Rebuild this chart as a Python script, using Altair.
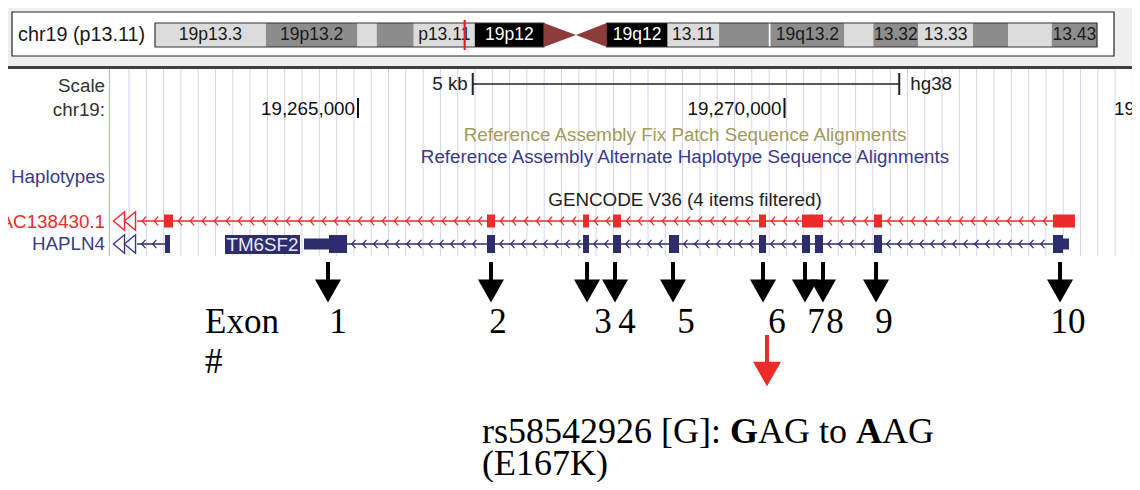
import altair as alt
import pandas as pd

# ---------------- data ----------------
# chr19 ideogram (hg38, Mb)
band_name = ["p13.3", "p13.2", "p13.13", "p13.12", "p13.11", "p12", "q12", "q13.11", "q13.12",
             "q13.13", "q13.2", "q13.31", "q13.32", "q13.33", "q13.41", "q13.42", "q13.43"]
band_start = [0.0, 6.9, 12.6, 13.8, 16.1, 19.9, 28.1, 31.9, 35.1, 38.2, 38.3, 42.9, 44.7, 47.5, 50.9, 53.1, 55.8]
band_end = [6.9, 12.6, 13.8, 16.1, 19.9, 24.2, 31.9, 35.1, 38.2, 38.3, 42.9, 44.7, 47.5, 50.9, 53.1, 55.8, 58.617]
band_stain = ["gneg", "gpos25", "gneg", "gpos25", "gneg", "gvar", "gvar", "gneg", "gpos25",
              "gwhite", "gpos25", "gneg", "gpos25", "gneg", "gpos25", "gneg", "gpos25"]
band_label = ["19p13.3", "19p13.2", "", "", "p13.11", "19p12", "19q12", "13.11", "",
              "", "19q13.2", "", "13.32", "13.33", "", "", "13.43"]
centromere_mb = [24.2, 26.2, 28.1]
view_mb = 19.27

# gene models (chr19, bp)
ac_line = [19262409, 19273405]
ac_exon_start = [19262726, 19266512, 19267638, 19267989, 19269701, 19270205, 19271049, 19273147]
ac_exon_end = [19262831, 19266606, 19267708, 19268083, 19269783, 19270451, 19271143, 19273405]

hapln4_line = [19262409, 19262737]
hapln4_exon = [19262737, 19262796]

tm_line = [19264871, 19273147]
tm_cds_start = [19264660, 19266512, 19267638, 19267989, 19268646, 19269701, 19270205, 19270357, 19271049, 19273147]
tm_cds_end = [19264871, 19266606, 19267708, 19268083, 19268763, 19269783, 19270299, 19270451, 19271143, 19273265]
tm_utr_start = [19264367, 19273265]
tm_utr_end = [19264660, 19273335]

# exon arrows / numbers
exon_num = ["1", "2", "3", "4", "5", "6", "7", "8", "9", "10"]
exon_arrow_bp = [19264648, 19266559, 19267685, 19268013, 19268693, 19269748, 19270240, 19270451, 19271073, 19273230]
exon_label_bp = [19264766, 19266641, 19267872, 19268153, 19268845, 19269912, 19270369, 19270592, 19271166, 19273323]
snp_bp = 19269795

scale_bar_bp = [19266345, 19271345]
coord_ticks = [19265000, 19270000, 19275000]
coord_labels = ["19,265,000", "19,270,000", "19,275,000"]

# ---------------- layout ----------------
W, H = 1124, 474
PXX = [8, 1132]
PXY = [8, 482]
BP_PER_PX = 11.723
G_DOM = [19265000 + (8 - 358) * BP_PER_PX, 19265000 + (1132 - 358) * BP_PER_PX]
I0, IPX = 155.0, 16.07
I_DOM = [(8 - I0) / IPX, (1132 - I0) / IPX]

SANS = "Liberation Sans"
SERIF = "Liberation Serif"
FS = 18.8
RED = "#ee2a2a"
NAVY = "#2d2d6e"
STAIN = {"gneg": "#dcdcdc", "gpos25": "#8d8d8d", "gvar": "#000000", "gwhite": "#ffffff"}


def xs(f, dom):
    return alt.X(f, type="quantitative", scale=alt.Scale(domain=dom, nice=False, zero=False), axis=None)


def ys(f):
    return alt.Y(f, type="quantitative", scale=alt.Scale(domain=PXY, nice=False, zero=False, reverse=True), axis=None)


def rects(df, dom, **kw):
    return alt.Chart(df).mark_rect(**kw).encode(
        x=xs("x", dom), x2=alt.X2("x2"), y=ys("y"), y2=alt.Y2("y2"))


def rules(df, dom, **kw):
    return alt.Chart(df).mark_rule(**kw).encode(
        x=xs("x", dom), x2=alt.X2("x2"), y=ys("y"), y2=alt.Y2("y2"))


def vrules(df, dom, **kw):
    return alt.Chart(df).mark_rule(**kw).encode(
        x=xs("x", dom), y=ys("y"), y2=alt.Y2("y2"))


def texts(df, dom, **kw):
    return alt.Chart(df).mark_text(**kw).encode(x=xs("x", dom), y=ys("y"), text="t:N")


layers = []

# top panel background and separator
layers.append(alt.Chart(pd.DataFrame({"x": [8, 8], "x2": [1132, 1132], "y": [8, 66],
                                      "y2": [66, 69], "c": ["#efefef", "#404040"]}))
              .mark_rect().encode(x=xs("x", PXX), x2=alt.X2("x2"), y=ys("y"), y2=alt.Y2("y2"),
                                  color=alt.Color("c:N", scale=None)))
# ideogram frame
layers.append(rects(pd.DataFrame({"x": [12], "x2": [1114], "y": [12], "y2": [56]}), PXX,
                    fill="white", stroke="#222222", strokeWidth=1.2))
layers.append(texts(pd.DataFrame({"x": [18], "y": [35], "t": ["chr19 (p13.11)"]}), PXX,
                    align="left", baseline="middle", font=SANS, fontSize=19.8, color="#1a1a1a"))

# bands
bands = pd.DataFrame({"x": band_start, "x2": band_end, "y": 23, "y2": 47, "ym": 35,
                      "c": [STAIN[s] for s in band_stain],
                      "t": band_label,
                      "tc": ["white" if s == "gvar" else "#1a1a1a" for s in band_stain]})
bands["mid"] = (bands["x"] + bands["x2"]) / 2
layers.append(alt.Chart(bands).mark_rect().encode(
    x=xs("x", I_DOM), x2=alt.X2("x2"), y=ys("y"), y2=alt.Y2("y2"), color=alt.Color("c:N", scale=None)))
arms = pd.DataFrame({"x": [band_start[0], band_start[6]], "x2": [band_end[5], band_end[-1]], "y": 23, "y2": 47})
layers.append(rects(arms, I_DOM, fillOpacity=0, stroke="#333333", strokeWidth=1.2))
layers.append(alt.Chart(bands[bands["t"] != ""]).mark_text(font=SANS, fontSize=17.5, baseline="middle").encode(
    x=xs("mid", I_DOM), y=ys("ym"), text="t:N", color=alt.Color("tc:N", scale=None)))
cen = pd.DataFrame({"x": centromere_mb, "y": [23, 35, 23], "y2": [47, 35, 47]})
layers.append(alt.Chart(cen).mark_area(color="#8e3b3b", line=False).encode(
    x=xs("x", I_DOM), y=ys("y"), y2=alt.Y2("y2")))
layers.append(vrules(pd.DataFrame({"x": [view_mb], "y": [20], "y2": [50]}), I_DOM, color="#ee1c1c", strokeWidth=2.2))

# browser grid
grid_x = [129 + 17.3 * i for i in range(59)]
layers.append(vrules(pd.DataFrame({"x": grid_x, "y": 69, "y2": 256}), PXX, color="#d4d4ee", strokeWidth=1))
layers.append(vrules(pd.DataFrame({"x": [109.5], "y": [69], "y2": [256]}), PXX, color="#f3a3a3", strokeWidth=1))

# left labels
left = pd.DataFrame({"x": 105, "y": [86, 110, 177, 222, 244],
                     "t": ["Scale", "chr19:", "Haplotypes", "AC138430.1", "HAPLN4"],
                     "c": ["#333333", "#333333", "#3a3a8a", RED, "#3a3a8a"]})
layers.append(alt.Chart(left).mark_text(align="right", baseline="middle", font=SANS, fontSize=FS).encode(
    x=xs("x", PXX), y=ys("y"), text="t:N", color=alt.Color("c:N", scale=None)))

# scale bar
layers.append(rules(pd.DataFrame({"x": [scale_bar_bp[0]], "x2": [scale_bar_bp[1]], "y": [84], "y2": [84]}),
                    G_DOM, color="#222222", strokeWidth=1.3))
layers.append(vrules(pd.DataFrame({"x": scale_bar_bp, "y": 73, "y2": 95}), G_DOM, color="#222222", strokeWidth=2))
layers.append(texts(pd.DataFrame({"x": [scale_bar_bp[0]], "y": [84], "t": ["5 kb"]}), G_DOM,
                    align="right", baseline="middle", dx=-5, font=SANS, fontSize=FS, color="#222222"))
layers.append(texts(pd.DataFrame({"x": [scale_bar_bp[1]], "y": [84], "t": ["hg38"]}), G_DOM,
                    align="left", baseline="middle", dx=11, font=SANS, fontSize=FS, color="#222222"))
# coordinate ticks
layers.append(vrules(pd.DataFrame({"x": coord_ticks[:2], "y": 98, "y2": 118}), G_DOM, color="#111111", strokeWidth=2))
layers.append(texts(pd.DataFrame({"x": coord_ticks, "y": 109, "t": coord_labels}), G_DOM,
                    align="right", baseline="middle", dx=-3, font=SANS, fontSize=FS, color="#111111"))

# track titles
titles = pd.DataFrame({"x": 685, "y": [135, 157, 200],
                       "t": ["Reference Assembly Fix Patch Sequence Alignments",
                             "Reference Assembly Alternate Haplotype Sequence Alignments",
                             "GENCODE V36 (4 items filtered)"],
                       "c": ["#a39a55", "#3a3a8a", "#222222"]})
layers.append(alt.Chart(titles).mark_text(align="center", baseline="middle", font=SANS, fontSize=FS).encode(
    x=xs("x", PXX), y=ys("y"), text="t:N", color=alt.Color("c:N", scale=None)))

# ---- gene tracks ----
RY, BY = 221, 244


def chevrons(segs, step):
    out = []
    for a, b in segs:
        p = a + step * 0.6
        while p < b - step * 0.25:
            out.append(p)
            p += step
    return out


def introns(line, starts, ends):
    ex = sorted(zip(starts, ends))
    segs = []
    cur = line[0]
    for s, e in ex:
        if s > cur:
            segs.append((cur, s))
        cur = max(cur, e)
    if line[1] > cur:
        segs.append((cur, line[1]))
    return segs


CHEV = "M0.45,-1L-0.45,0L0.45,1"
END = "M0.6,-1L-0.6,0L0.6,1Z"

# red AC138430.1
layers.append(rules(pd.DataFrame({"x": [ac_line[0]], "x2": [ac_line[1]], "y": [RY], "y2": [RY]}), G_DOM,
                    color=RED, strokeWidth=1.5))
red_ch = chevrons(introns(ac_line, ac_exon_start, ac_exon_end), 12 * BP_PER_PX)
layers.append(alt.Chart(pd.DataFrame({"x": red_ch, "y": RY})).mark_point(
    shape=CHEV, size=75, filled=False, stroke=RED, strokeWidth=1.3, opacity=1).encode(x=xs("x", G_DOM), y=ys("y")))
layers.append(rects(pd.DataFrame({"x": ac_exon_start, "x2": ac_exon_end, "y": RY - 6.5, "y2": RY + 6.5}),
                    G_DOM, color=RED))

# navy HAPLN4 + TM6SF2
blue_lines = pd.DataFrame({"x": [hapln4_line[0], tm_line[0]], "x2": [hapln4_line[1], tm_line[1]], "y": BY, "y2": BY})
layers.append(rules(blue_lines, G_DOM, color=NAVY, strokeWidth=1.5))
blue_ch = chevrons([(hapln4_line[0], hapln4_line[1])] + introns(tm_line, tm_cds_start, tm_cds_end), 11 * BP_PER_PX)
layers.append(alt.Chart(pd.DataFrame({"x": blue_ch, "y": BY})).mark_point(
    shape=CHEV, size=70, filled=False, stroke=NAVY, strokeWidth=1.2, opacity=1).encode(x=xs("x", G_DOM), y=ys("y")))
layers.append(rects(pd.DataFrame({"x": tm_cds_start + [hapln4_exon[0]], "x2": tm_cds_end + [hapln4_exon[1]],
                                  "y": BY - 9, "y2": BY + 9}), G_DOM, color=NAVY))
layers.append(rects(pd.DataFrame({"x": tm_utr_start, "x2": tm_utr_end, "y": BY - 5.5, "y2": BY + 5.5}),
                    G_DOM, color=NAVY))

# strand end markers
ends = pd.DataFrame({"x": [119, 130, 119, 130], "y": [RY, RY, BY, BY],
                     "c": [RED, RED, "#3a3a8a", "#3a3a8a"]})
layers.append(alt.Chart(ends).mark_point(shape=END, size=340, filled=False, strokeWidth=1.4, opacity=1).encode(
    x=xs("x", PXX), y=ys("y"), stroke=alt.Stroke("c:N", scale=None)))

# TM6SF2 label box
layers.append(rects(pd.DataFrame({"x": [225], "x2": [300], "y": [235], "y2": [254]}), PXX, color=NAVY))
layers.append(texts(pd.DataFrame({"x": [262.5], "y": [244.5], "t": ["TM6SF2"]}), PXX,
                    align="center", baseline="middle", font=SANS, fontSize=FS, color="#e8e8f4"))

# ---- annotation arrows ----
ARROW = "M-1,-0.88L1,-0.88L0,0.88Z"
layers.append(vrules(pd.DataFrame({"x": exon_arrow_bp, "y": 262, "y2": 284}), G_DOM, color="black", strokeWidth=4))
layers.append(alt.Chart(pd.DataFrame({"x": exon_arrow_bp, "y": 291})).mark_point(
    shape=ARROW, size=676, filled=True, color="black", opacity=1).encode(x=xs("x", G_DOM), y=ys("y")))
layers.append(texts(pd.DataFrame({"x": exon_label_bp, "y": 322, "t": exon_num}), G_DOM,
                    align="center", baseline="middle", font=SERIF, fontSize=35, color="black"))
layers.append(texts(pd.DataFrame({"x": [205, 205], "y": [322, 362], "t": ["Exon", "#"]}), PXX,
                    align="left", baseline="middle", font=SERIF, fontSize=35, color="black"))

# SNP arrow
layers.append(vrules(pd.DataFrame({"x": [snp_bp], "y": [335], "y2": [364]}), G_DOM, color="#ee2a2a", strokeWidth=4))
layers.append(alt.Chart(pd.DataFrame({"x": [snp_bp], "y": [374]})).mark_point(
    shape=ARROW, size=784, filled=True, color="#ee2a2a", opacity=1).encode(x=xs("x", G_DOM), y=ys("y")))

snp_text = pd.DataFrame({
    "x": [482, 730, 758, 856, 882, 482],
    "y": [432, 432, 432, 432, 432, 464],
    "t": ["rs58542926 [G]:", "G", "AG to", "A", "AG", "(E167K)"],
    "w": ["normal", "bold", "normal", "bold", "normal", "normal"]})
for w in ["normal", "bold"]:
    layers.append(texts(snp_text[snp_text["w"] == w], PXX, align="left", baseline="middle",
                        font=SERIF, fontSize=36, fontWeight=w, color="black"))

chart = alt.layer(*layers).resolve_scale(x="independent").properties(
    width=W, height=H, padding=0,
    autosize=alt.AutoSizeParams(type="none"),
    background="white").configure_view(stroke="transparent")

chart.save("out.html", embed_options={"renderer": "svg", "actions": False})
